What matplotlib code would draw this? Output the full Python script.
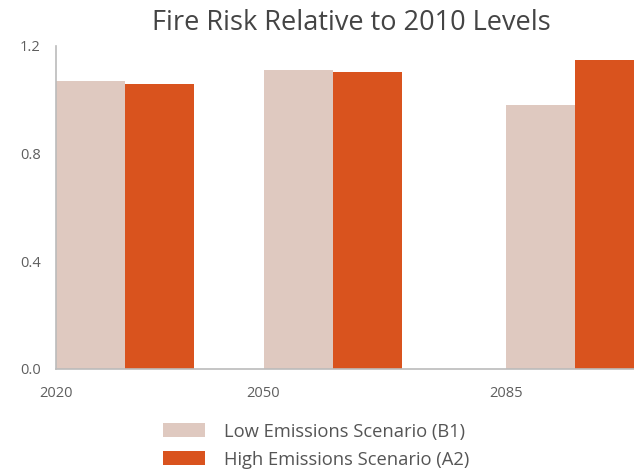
import numpy as np
import matplotlib.pyplot as plt

plt.rcParams['font.family'] = ['Open Sans', 'DejaVu Sans']

years = [2020, 2050, 2085]
low_b1 = [1.069, 1.112, 0.982]
high_a2 = [1.060, 1.104, 1.147]
series_names = ['Low Emissions Scenario (B1)', 'High Emissions Scenario (A2)']
low_color = '#dfc9c0'
high_color = '#d9531e'

fig = plt.figure(figsize=(6.34, 4.73), dpi=100)
ax = fig.add_axes([0.088, 0.22, 0.912, 0.683])

ax.bar(years, low_b1, width=10, align='edge', color=low_color, label=series_names[0])
ax.bar(np.array(years) + 10, high_a2, width=10, align='edge', color=high_color, label=series_names[1])

ax.set_xlim(2020, 2103.5)
ax.set_ylim(0, 1.2)
ax.set_xticks(years)
ax.set_xticklabels([str(y) for y in years])
ax.set_yticks([0, 0.4, 0.8, 1.2])
ax.set_yticklabels(['0.0', '0.4', '0.8', '1.2'])
ax.tick_params(length=0, labelsize=10.5, colors='#5e5e5e', pad=11)
ax.tick_params(axis='x', pad=12)

for s in ['top', 'right']:
    ax.spines[s].set_visible(False)
for s in ['left', 'bottom']:
    ax.spines[s].set_color('#bbbbbb')
    ax.spines[s].set_linewidth(1.2)

fig.text(0.555, 0.952, 'Fire Risk Relative to 2010 Levels', ha='center', va='center',
         fontsize=19.5, color='#444444')

fig.legend(loc='center', bbox_to_anchor=(0.499, 0.058), frameon=False, fontsize=13.2,
           labelcolor='#555555', handlelength=2.3, handleheight=0.8, labelspacing=0.55,
           handletextpad=1.05)

plt.savefig('out.png', dpi=100)
